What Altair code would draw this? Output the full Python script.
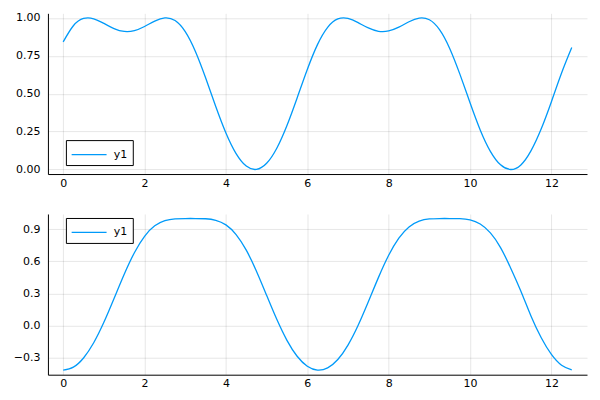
import pandas as pd
import altair as alt

x = [0.0, 0.25, 0.5, 0.75, 1.0, 1.25, 1.5, 1.75, 2.0, 2.25, 2.5, 2.75, 3.0,
     3.25, 3.5, 3.75, 4.0, 4.25, 4.5, 4.75, 5.0, 5.25, 5.5, 5.75, 6.0, 6.25,
     6.5, 6.75, 7.0, 7.25, 7.5, 7.75, 8.0, 8.25, 8.5, 8.75, 9.0, 9.25, 9.5,
     9.75, 10.0, 10.25, 10.5, 10.75, 11.0, 11.25, 11.5, 11.75, 12.0, 12.25, 12.5]

# top panel series
y_top = [0.8415, 0.9481, 0.9959, 0.9938, 0.9636, 0.9295, 0.9104, 0.9159, 0.9433,
         0.9784, 0.9996, 0.9822, 0.9090, 0.7781, 0.6045, 0.4154, 0.2408, 0.1048,
         0.0225, 0.0007, 0.0411, 0.1406, 0.2903, 0.4721, 0.6598, 0.8235, 0.9375,
         0.9927, 0.9963, 0.9683, 0.9335, 0.9116, 0.9138, 0.9385, 0.9742, 0.9985,
         0.9874, 0.9222, 0.7986, 0.6290, 0.4404, 0.2612, 0.1200, 0.0307, 0.0000,
         0.0302, 0.1242, 0.2682, 0.4470, 0.6360, 0.8038]

# bottom panel series
y_bottom = [-0.4161, -0.3877, -0.3022, -0.1603, 0.0305, 0.2527, 0.4796, 0.6809,
            0.8343, 0.9317, 0.9803, 0.9971, 1.0000, 1.0000, 0.9980, 0.9839, 0.9406,
            0.8505, 0.7044, 0.5086, 0.2832, 0.0585, -0.1375, -0.2863, -0.3795,
            -0.4156, -0.3949, -0.3167, -0.1821, 0.0029, 0.2222, 0.4504, 0.6566,
            0.8171, 0.9218, 0.9761, 0.9961, 0.9999, 1.0000, 0.9986, 0.9871, 0.9484,
            0.8656, 0.7289, 0.5366, 0.3212, 0.0874, -0.1140, -0.2697, -0.3705,
            -0.4141]

x_ticks = [0, 2, 4, 6, 8, 10, 12]
top_ticks = [0.0, 0.25, 0.5, 0.75, 1.0]
bottom_ticks = [-0.3, 0.0, 0.3, 0.6, 0.9]

FONT = "DejaVu Sans"
BLUE = "#009af9"


def panel(values, y_domain, y_ticks, y_format, legend_y):
    df = pd.DataFrame({"x": x, "y": values, "series": "y1"})
    return alt.Chart(df).mark_line(
        interpolate="natural", strokeWidth=1.3
    ).encode(
        x=alt.X(
            "x:Q",
            scale=alt.Scale(domain=[-0.375, 12.875], nice=False, zero=False),
            axis=alt.Axis(values=x_ticks, format="d", title=None, labelPadding=3),
        ),
        y=alt.Y(
            "y:Q",
            scale=alt.Scale(domain=y_domain, nice=False, zero=False),
            axis=alt.Axis(values=y_ticks, format=y_format, title=None,
                          labelPadding=8, minExtent=35, maxExtent=35),
        ),
        color=alt.Color(
            "series:N",
            scale=alt.Scale(range=[BLUE]),
            legend=alt.Legend(
                title=None, orient="none", legendX=18, legendY=legend_y,
                # a long line sample in a short legend row
                symbolType="M-1,0H3", symbolSize=306, symbolStrokeWidth=1.3,
                strokeColor="black", fillColor="white", padding=5,
                cornerRadius=0, labelFontSize=11, labelFont=FONT,
                labelColor="black", labelOffset=24,
            ),
        ),
    ).properties(width=540, height=161)


top = panel(y_top, [-0.03, 1.03], top_ticks, ".2f", 127)
bottom = panel(y_bottom, [-0.4585, 1.0425], bottom_ticks, ".1f", 4)

chart = alt.vconcat(top, bottom, spacing=40, bounds="flush").resolve_scale(
    color="independent"
).resolve_legend(color="independent").properties(
    padding={"left": 5, "top": 3, "right": 5, "bottom": 5}
).configure_view(stroke=None).configure_axis(
    labelFont=FONT, labelFontSize=11, labelColor="black",
    domainColor="black", domainWidth=1, ticks=False,
    gridColor="black", gridOpacity=0.1, gridWidth=1,
)

chart.save("out.html", embed_options={"renderer": "svg", "actions": False})
